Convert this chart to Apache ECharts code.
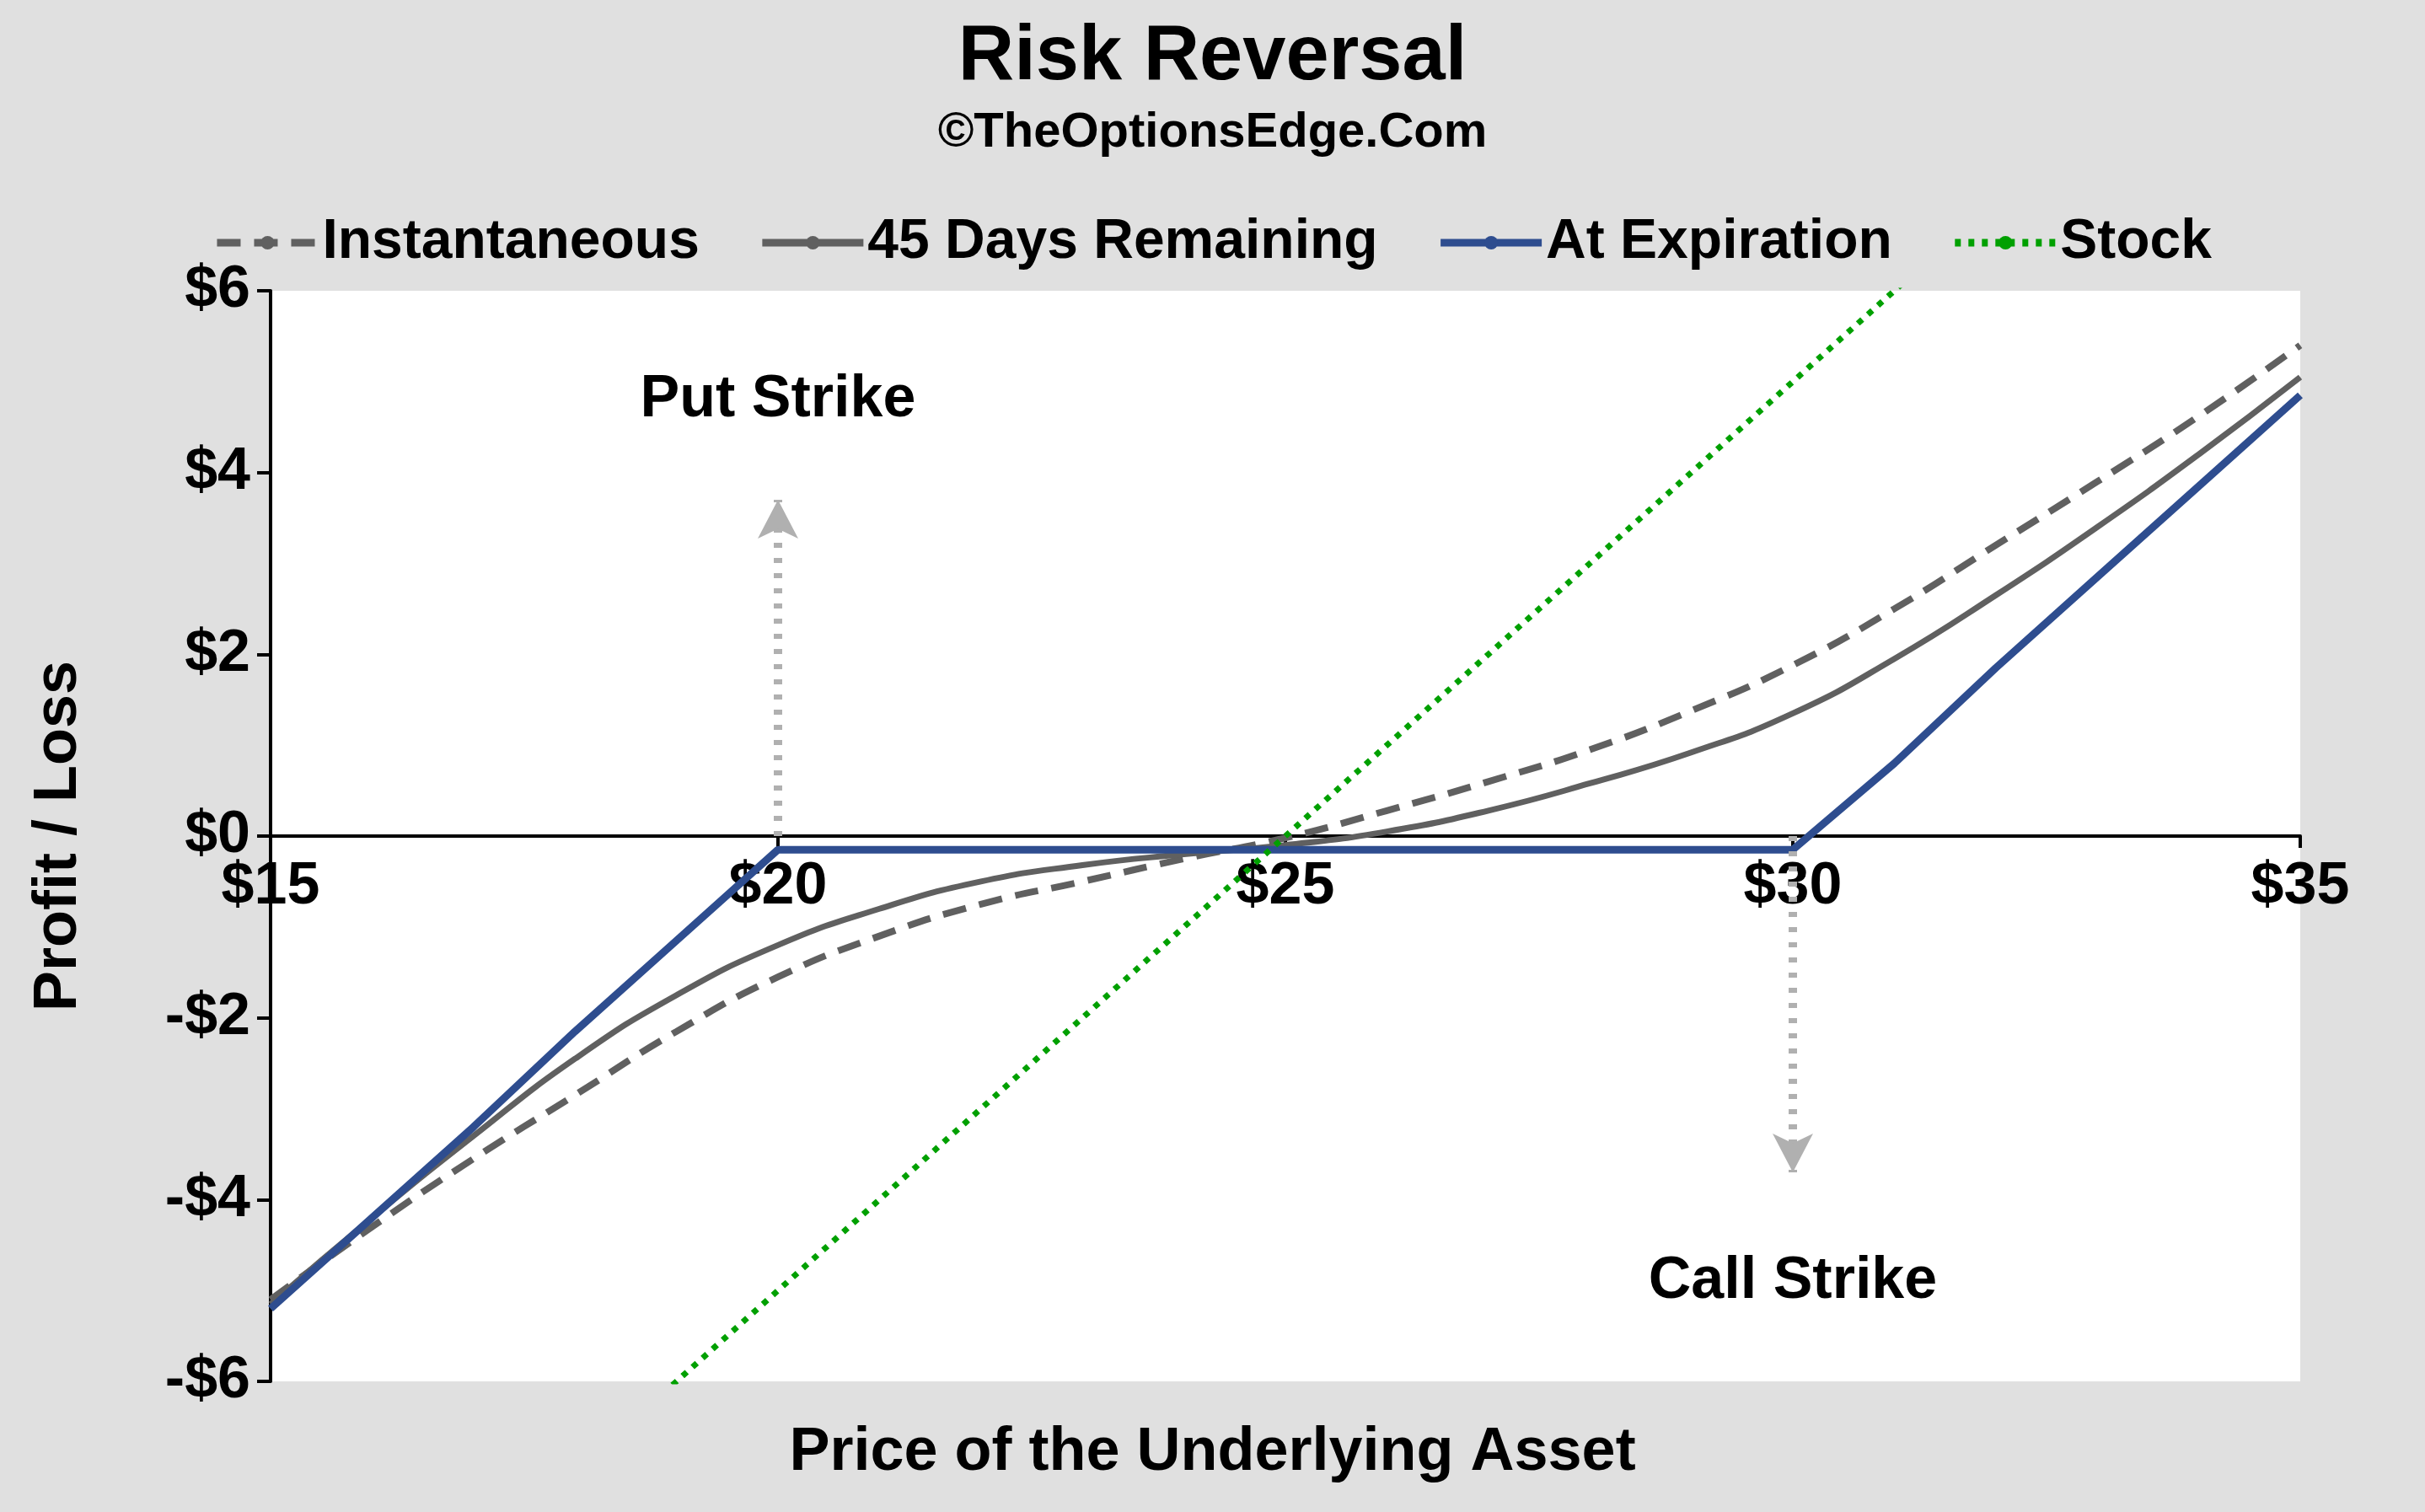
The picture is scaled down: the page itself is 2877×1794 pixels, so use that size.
<!DOCTYPE html>
<html><head><meta charset="utf-8">
<script src="https://cdn.jsdelivr.net/npm/echarts@6/dist/echarts.min.js"></script>
<style>html,body{margin:0;padding:0;background:#e0e0e0}#c{width:2877px;height:1794px}</style>
</head><body><div id="c"></div>
<script>
var prices = [15, 16, 17, 18, 19, 20, 21, 22, 23, 24, 25, 26, 27, 28, 29, 30, 31, 32, 33, 34, 35];
var instantaneous = [-5.1, -4.3, -3.55, -2.85, -2.15, -1.55, -1.1, -0.75, -0.5, -0.25, -0.02, 0.28, 0.6, 0.95, 1.38, 1.88, 2.5, 3.2, 3.9, 4.62, 5.4];
var days45 = [-5.15, -4.2, -3.3, -2.45, -1.75, -1.2, -0.8, -0.5, -0.32, -0.2, -0.1, 0.05, 0.28, 0.58, 0.92, 1.35, 1.95, 2.65, 3.4, 4.2, 5.05];
var expiration = [-5.2, -4.2, -3.2, -2.15, -1.15, -0.15, -0.15, -0.15, -0.15, -0.15, -0.15, -0.15, -0.15, -0.15, -0.15, -0.15, 0.8, 1.85, 2.85, 3.85, 4.85];
var stock = [-10, -9, -8, -7, -6, -5, -4, -3, -2, -1, 0, 1, 2, 3, 4, 5, 6, 7, 8, 9, 10];
var strikes = [20, 30];
var arrowEnds = [3.7, -3.7];
var strikeLabels = [[20, 4.8, 'Put Strike'], [30, -4.9, 'Call Strike']];

function pairs(ys) { return prices.map(function (x, i) { return [x, ys[i]]; }); }

var chart = echarts.init(document.getElementById('c'));
var font = 'Liberation Sans, Arial, sans-serif';
chart.setOption({
    backgroundColor: '#e0e0e0',
    title: {
        text: 'Risk Reversal', subtext: '©TheOptionsEdge.Com', left: 'center', top: 18,
        textStyle: { fontFamily: font, fontSize: 92, fontWeight: 'bold', color: '#000' },
        subtextStyle: { fontFamily: font, fontSize: 58, fontWeight: 'bold', color: '#000' }, itemGap: 14
    },
    legend: {
        top: 250, left: 'center', itemWidth: 120, itemHeight: 20, itemGap: 70,
        textStyle: { fontFamily: font, fontSize: 66, fontWeight: 'bold', color: '#000' },
        lineStyle: { width: 9 },
        data: ['Instantaneous', '45 Days Remaining', 'At Expiration', 'Stock']
    },
    grid: { left: 321, right: 148, top: 345, bottom: 155, show: true, backgroundColor: '#fff', borderWidth: 0 },
    xAxis: {
        type: 'value', min: 15, max: 35, interval: 5, position: 'bottom', offset: -647,
        axisLine: { onZero: false, lineStyle: { color: '#000', width: 4 } },
        axisTick: { show: true, length: 14, lineStyle: { width: 4, color: '#000' } },
        axisLabel: { formatter: '${value}', fontFamily: font, fontSize: 70, fontWeight: 'bold', color: '#000', margin: 26 },
        splitLine: { show: false }
    },
    yAxis: {
        type: 'value', min: -6, max: 6, interval: 2,
        name: 'Profit / Loss', nameLocation: 'middle', nameGap: 215,
        nameTextStyle: { fontFamily: font, fontSize: 72, fontWeight: 'bold', color: '#000' },
        axisLine: { show: true, lineStyle: { color: '#000', width: 4 } },
        axisTick: { show: true, length: 16, lineStyle: { width: 4, color: '#000' } },
        axisLabel: { formatter: function (v) { return (v < 0 ? '-$' : '$') + Math.abs(v); }, fontFamily: font, fontSize: 70, fontWeight: 'bold', color: '#000', margin: 24 },
        splitLine: { show: false }
    },
    graphic: [{
        type: 'text', left: 'center', top: 1688,
        style: { text: 'Price of the Underlying Asset', font: 'bold 72px ' + font, fill: '#000' }
    }],
    series: [
        { name: 'Instantaneous', type: 'line', smooth: true, symbol: 'none', data: pairs(instantaneous), lineStyle: { color: '#606060', width: 8, type: [28, 16] }, itemStyle: { color: '#606060' } },
        { name: '45 Days Remaining', type: 'line', smooth: true, symbol: 'none', data: pairs(days45), lineStyle: { color: '#606060', width: 7 }, itemStyle: { color: '#606060' } },
        { name: 'At Expiration', type: 'line', symbol: 'none', data: pairs(expiration), lineStyle: { color: '#2e4d8f', width: 9 }, itemStyle: { color: '#2e4d8f' } },
        {
            name: 'Stock', type: 'line', symbol: 'none', data: pairs(stock), clip: true,
            lineStyle: { color: '#00a000', width: 7, type: [7, 9] }, itemStyle: { color: '#00a000' }
        },
        {
            name: 'strikes', type: 'scatter', data: strikeLabels.map(function (d) { return [d[0], d[1], d[2]]; }), symbolSize: 1,
            itemStyle: { color: '#000', opacity: 0 }, emphasis: { disabled: true },
            label: { show: true, position: 'inside', formatter: function (p) { return p.value[2]; }, fontFamily: font, fontSize: 70, fontWeight: 'bold', color: '#000', opacity: 1 },
            markLine: {
                silent: true, symbol: ['none', 'arrow'], symbolSize: [36, 46],
                lineStyle: { color: '#b0b0b0', width: 10, type: [6, 12] }, label: { show: false },
                data: strikes.map(function (s, i) { return [{ coord: [s, 0] }, { coord: [s, arrowEnds[i]] }]; })
            },
            z: 1
        }
    ]
});
</script></body></html>
